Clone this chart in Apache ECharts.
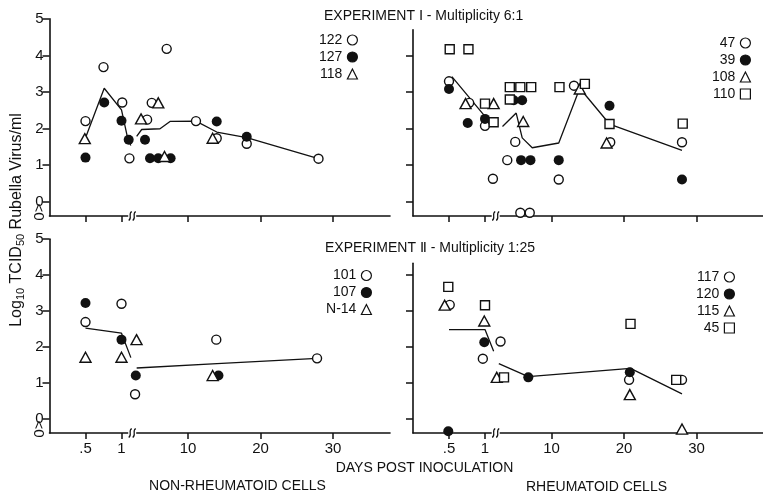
<!DOCTYPE html>
<html><head><meta charset="utf-8">
<script src="https://cdn.jsdelivr.net/npm/echarts@6/dist/echarts.min.js"></script>
<style>html,body{margin:0;padding:0;background:#fff}#c{width:763px;height:494px}</style>
</head><body><div id="c"></div>
<script>
// ---- Data: [days post inoculation, log10 TCID50 rubella virus / ml]  (values below 0 = "<0") ----
const xLabelsShort = [0.5, 1];
const xLabelsLong = [10, 20, 30];
const yTickValues = [0, 1, 2, 3, 4, 5];

// Experiment I (multiplicity 6:1) – non-rheumatoid cells
const e1n_122 = [[0.5,2.2],[0.75,3.68],[1.01,2.71],[1.11,1.18],[4.36,2.24],[5.0,2.7],[7.06,4.18],[11.1,2.2],[13.96,1.73],[18.1,1.58],[28.0,1.17]];
const e1n_127 = [[0.5,1.2],[0.76,2.71],[1.0,2.21],[1.1,1.69],[4.07,1.69],[4.76,1.18],[5.9,1.18],[7.6,1.18],[13.96,2.19],[18.1,1.77]];
const e1n_118 = [[0.49,1.72],[3.52,2.26],[5.9,2.7],[6.76,1.23],[13.4,1.73]];
const e1n_mean = [[0.49,1.69],[0.76,3.1],[1.0,2.51],[1.09,1.69],[1.13,1.53],[2.92,1.78],[3.61,1.97],[6.14,1.99],[7.52,2.19],[11.1,2.2],[13.96,1.9],[18.1,1.75],[28.0,1.17]];

// Experiment I – rheumatoid cells
const e1r_47 = [[0.5,3.29],[0.78,2.7],[1.0,2.07],[1.11,0.62],[3.9,1.13],[5.0,1.63],[5.7,-0.31],[7.0,-0.31],[11.0,0.6],[13.1,3.17],[18.1,1.62],[28.0,1.62]];
const e1r_39 = [[0.5,3.08],[0.76,2.15],[1.0,2.26],[4.8,2.77],[5.95,2.77],[5.8,1.13],[7.1,1.13],[11.0,1.13],[18.0,2.62],[28.0,0.6]];
const e1r_108 = [[0.73,2.68],[1.12,2.68],[6.1,2.19],[13.9,3.08],[17.6,1.6]];
const e1r_110 = [[0.51,4.17],[0.77,4.17],[1.0,2.68],[1.12,2.17],[4.25,2.79],[4.25,3.13],[5.7,3.13],[7.2,3.13],[11.1,3.13],[14.6,3.22],[18.0,2.12],[28.1,2.13]];
const e1r_mean = [[0.54,3.42],[1.0,2.33],[1.09,2.06],[3.24,2.05],[5.13,2.42],[5.96,1.74],[7.34,1.47],[11.0,1.6],[13.9,3.1],[18.0,2.12],[28.0,1.4]];

// Experiment II (multiplicity 1:25) – non-rheumatoid cells
const e2n_101 = [[0.5,2.69],[1.0,3.2],[2.7,0.68],[13.9,2.2],[27.8,1.68]];
const e2n_107 = [[0.5,3.22],[1.0,2.2],[2.8,1.2],[14.2,1.2]];
const e2n_N14 = [[0.5,1.71],[1.0,1.71],[2.9,2.2],[13.4,1.2]];
const e2n_mean = [[0.5,2.52],[1.0,2.38],[1.13,1.7],[2.92,1.41],[14.0,1.53],[27.8,1.68]];

// Experiment II – rheumatoid cells
const e2r_117 = [[0.51,3.17],[0.97,1.67],[2.97,2.15],[20.7,1.08],[28.0,1.08]];
const e2r_120 = [[0.49,-0.35],[0.99,2.13],[6.8,1.15],[20.8,1.29]];
const e2r_115 = [[0.44,3.16],[0.99,2.72],[2.45,1.15],[20.8,0.67],[28.0,-0.29]];
const e2r_45 = [[0.49,3.67],[1.0,3.16],[3.45,1.15],[20.9,2.64],[27.2,1.08]];
const e2r_mean = [[0.5,2.48],[1.0,2.48],[1.12,1.88],[2.73,1.53],[6.8,1.17],[20.9,1.4],[28.0,0.69]];

// ---- Layout / style ----
const INK = '#111';
const FONT = "'Liberation Sans', Arial, sans-serif";
const YMIN = -0.4;
const L_W = 82, PX_DAY_L = 72, PX_DAY_R = 7.25, R_MIN = 2.4;
const L_MAX = L_W / PX_DAY_L;

const SYM = {
  o: {symbol:'circle', symbolSize:9, itemStyle:{color:'#fff', borderColor:INK, borderWidth:1.4, opacity:1}},
  f: {symbol:'circle', symbolSize:10, itemStyle:{color:INK, borderColor:INK, borderWidth:0, opacity:1}},
  t: {symbol:'triangle', symbolSize:[11,10], itemStyle:{color:'#fff', borderColor:INK, borderWidth:1.4, opacity:1}},
  s: {symbol:'rect', symbolSize:9, itemStyle:{color:'#fff', borderColor:INK, borderWidth:1.4, opacity:1}}
};

const panels = [
  {groups:[['122','o',e1n_122],['127','f',e1n_127],['118','t',e1n_118]], mean:e1n_mean,
   lx:49.5, rx:390, bottom:216, unit:36.5, ymax:5, yLabels:true, xLabels:false, legend:{right:405, top:33}},
  {groups:[['47','o',e1r_47],['39','f',e1r_39],['108','t',e1r_108],['110','s',e1r_110]], mean:e1r_mean,
   lx:413, rx:763, bottom:216, unit:36.5, ymax:4.7, yLabels:false, xLabels:false, legend:{right:12, top:36}},
  {groups:[['101','o',e2n_101],['107','f',e2n_107],['N-14','t',e2n_N14]], mean:e2n_mean,
   lx:49.5, rx:390, bottom:433, unit:35.9, ymax:5, yLabels:true, xLabels:true, legend:{right:391, top:268.5}},
  {groups:[['117','o',e2r_117],['120','f',e2r_120],['115','t',e2r_115],['45','s',e2r_45]], mean:e2r_mean,
   lx:413, rx:763, bottom:433, unit:35.9, ymax:4.33, yLabels:false, xLabels:true, legend:{right:28, top:270}}
];

const grid = [], xAxis = [], yAxis = [], series = [], legend = [], graphic = [];
const left = d => d.filter(p => p[0] <= L_MAX + 1e-9);
const right = d => d.filter(p => p[0] >= R_MIN);

panels.forEach((p, pi) => {
  const top = p.bottom - (p.ymax - YMIN) * p.unit;
  const height = p.bottom - top;
  const rLeft = p.lx + 83.4;
  const rWidth = p.rx - rLeft;
  grid.push({left:p.lx, top:top, width:L_W, height:height});
  grid.push({left:rLeft, top:top, width:rWidth, height:height});
  const gi = pi * 2;
  const xCommon = (vals, gIdx, min, max) => ({
    gridIndex:gIdx, type:'value', min:min, max:max,
    axisLine:{show:true, onZero:false, lineStyle:{color:INK, width:1.6}},
    axisTick:{show:true, inside:false, length:6, customValues:vals, lineStyle:{color:INK, width:1.5}},
    axisLabel:{show:p.xLabels, customValues:vals, margin:8, color:INK, fontSize:15, fontFamily:FONT,
      formatter:v => (v === 0.5 ? '.5' : String(v))},
    splitLine:{show:false}
  });
  xAxis.push(xCommon(xLabelsShort, gi, 0, L_MAX));
  xAxis.push(xCommon(xLabelsLong, gi + 1, R_MIN, R_MIN + rWidth / PX_DAY_R));
  const ticks = yTickValues.filter(v => v <= p.ymax);
  yAxis.push({gridIndex:gi, type:'value', min:YMIN, max:p.ymax,
    axisLine:{show:true, onZero:false, lineStyle:{color:INK, width:1.6}},
    axisTick:{show:true, inside:false, length:7, customValues:ticks, lineStyle:{color:INK, width:1.5}},
    axisLabel:{show:p.yLabels, customValues:ticks, margin:6, color:INK, fontSize:15, fontFamily:FONT},
    splitLine:{show:false}});
  yAxis.push({gridIndex:gi + 1, type:'value', min:YMIN, max:p.ymax, show:false, splitLine:{show:false}});

  // mean line (split at the axis break)
  [[left(p.mean), gi], [right(p.mean), gi + 1]].forEach(([d, idx]) => {
    series.push({type:'line', xAxisIndex:idx, yAxisIndex:idx, data:d, showSymbol:false, symbol:'none',
      clip:false, silent:true, z:1, lineStyle:{color:INK, width:1.3}});
  });
  // individual cultures
  p.groups.forEach(([name, kind, data]) => {
    [[left(data), gi], [right(data), gi + 1]].forEach(([d, idx]) => {
      series.push(Object.assign({type:'scatter', name:name, xAxisIndex:idx, yAxisIndex:idx, data:d,
        clip:false, z:3}, JSON.parse(JSON.stringify(SYM[kind]))));
    });
  });
  legend.push({data:p.groups.map(g => g[0]), orient:'vertical', align:'right', right:p.legend.right, top:p.legend.top,
    itemWidth:10, itemHeight:10, itemGap:3, padding:0, selectedMode:false,
    itemStyle:{borderWidth:1.2},
    textStyle:{fontSize:14, color:INK, fontFamily:FONT, lineHeight:13}});

  // axis-break mark on the x axis
  const bx = p.lx + 82.7, by = p.bottom;
  graphic.push({type:'rect', shape:{x:bx - 4, y:by - 2, width:8, height:4}, style:{fill:'#fff'}, z:100});
  [-2, 2].forEach(o => {
    graphic.push({type:'bezierCurve', z:101,
      shape:{x1:bx + o - 1.5, y1:by + 4.5, x2:bx + o + 1.5, y2:by - 4.5, cpx1:bx + o + 2.5, cpy1:by + 2, cpx2:bx + o - 2.5, cpy2:by - 2},
      style:{stroke:INK, lineWidth:1.2, fill:null}});
  });
  if (p.yLabels) {
    graphic.push({type:'text', x:p.lx - 11, y:p.bottom - 4, rotation:-Math.PI / 2, z:100,
      style:{text:'<0', fontSize:15, fontFamily:FONT, fill:INK, align:'center', verticalAlign:'middle'}});
  }
});

const txt = (text, x, y, align, extra) => Object.assign({type:'text', x:x, y:y, z:100,
  style:Object.assign({text:text, fontSize:14, fontFamily:FONT, fill:INK, align:align || 'left', verticalAlign:'middle'}, extra || {})});

graphic.push(txt('EXPERIMENT \u2160 - Multiplicity 6:1', 324, 16));
graphic.push(txt('EXPERIMENT \u2161 - Multiplicity 1:25', 325, 248));
graphic.push(txt('DAYS POST INOCULATION', 424.5, 468, 'center'));
graphic.push(txt('NON-RHEUMATOID CELLS', 237.5, 486, 'center'));
graphic.push(txt('RHEUMATOID CELLS', 596.5, 487, 'center'));
graphic.push({type:'text', x:17, y:220, rotation:Math.PI / 2, z:100,
  style:{text:'Log{s|10} TCID{s|50} Rubella Virus/ml', fontSize:16, fontFamily:FONT, fill:INK,
    align:'center', verticalAlign:'middle',
    rich:{s:{fontSize:11, fontFamily:FONT, fill:INK, padding:[8,0,0,0]}}}});

const chart = echarts.init(document.getElementById('c'), null, {renderer:'canvas'});
chart.setOption({
  animation:false, backgroundColor:'#fff',
  textStyle:{fontFamily:FONT, color:INK},
  grid, xAxis, yAxis, series, legend, graphic
});
</script></body></html>
